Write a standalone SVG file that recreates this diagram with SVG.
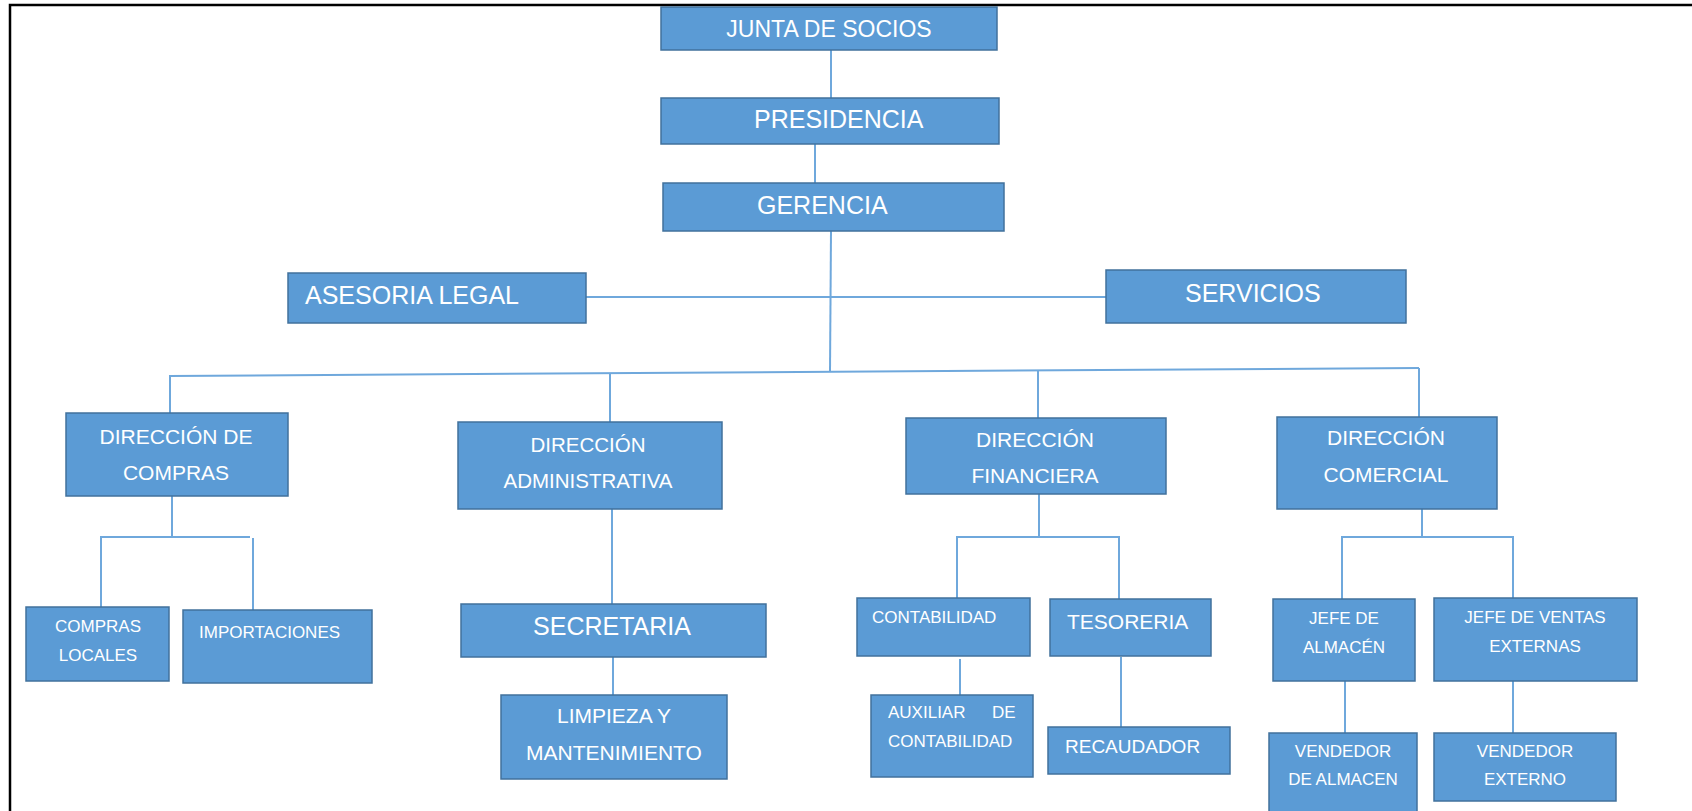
<svg xmlns="http://www.w3.org/2000/svg" width="1692" height="811" viewBox="0 0 1692 811">
<style>
.box{fill:#5B9BD5;stroke:#41719C;stroke-width:1.5}
.t{fill:#ffffff;font-family:"Liberation Sans",Arial,sans-serif}
.c{text-anchor:middle}
.ln{stroke:#6FA8DC;stroke-width:2;fill:none}
</style>
<rect width="1692" height="811" fill="#ffffff"/>
<path d="M10,811 V5 H1692" fill="none" stroke="#000000" stroke-width="2.5"/>
<g id="connectors">
<line class="ln" x1="831" y1="50" x2="831" y2="98"/>
<line class="ln" x1="815" y1="144" x2="815" y2="183"/>
<line class="ln" x1="831" y1="231" x2="830" y2="372"/>
<line class="ln" x1="586" y1="297" x2="1106" y2="297"/>
<line class="ln" x1="169" y1="376" x2="1419" y2="368"/>
<line class="ln" x1="170" y1="376" x2="170" y2="413"/>
<line class="ln" x1="610" y1="373" x2="610" y2="422"/>
<line class="ln" x1="1038" y1="370" x2="1038" y2="418"/>
<line class="ln" x1="1419" y1="368" x2="1419" y2="417"/>
<line class="ln" x1="172" y1="496" x2="172" y2="537"/>
<path class="ln" d="M101,607 V537 H250"/>
<line class="ln" x1="253" y1="538" x2="253" y2="610"/>
<line class="ln" x1="612" y1="509" x2="612" y2="604"/>
<line class="ln" x1="613" y1="657" x2="613" y2="695"/>
<line class="ln" x1="1039" y1="494" x2="1039" y2="537"/>
<path class="ln" d="M957,598 V537 H1119 V599"/>
<line class="ln" x1="960" y1="659" x2="960" y2="695"/>
<line class="ln" x1="1121" y1="657" x2="1121" y2="727"/>
<line class="ln" x1="1422" y1="509" x2="1422" y2="537"/>
<path class="ln" d="M1342,599 V537 H1514"/>
<line class="ln" x1="1513" y1="538" x2="1513" y2="598"/>
<line class="ln" x1="1345" y1="681" x2="1345" y2="733"/>
<line class="ln" x1="1513" y1="681" x2="1513" y2="733"/>
</g>
<g id="junta"><rect class="box" x="661" y="7" width="336" height="43"/><text class="t c" x="829" y="37" font-size="23">JUNTA DE SOCIOS</text></g>
<g id="presidencia"><rect class="box" x="661" y="98" width="338" height="46"/><text class="t" x="754" y="128" font-size="25">PRESIDENCIA</text></g>
<g id="gerencia"><rect class="box" x="663" y="183" width="341" height="48"/><text class="t" x="757" y="214" font-size="25">GERENCIA</text></g>
<g id="asesoria"><rect class="box" x="288" y="273" width="298" height="50"/><text class="t" x="305" y="304" font-size="25">ASESORIA LEGAL</text></g>
<g id="servicios"><rect class="box" x="1106" y="270" width="300" height="53"/><text class="t" x="1185" y="302" font-size="25">SERVICIOS</text></g>
<g id="dir-compras"><rect class="box" x="66" y="413" width="222" height="83"/><text class="t c" x="176" y="444" font-size="21">DIRECCIÓN DE</text><text class="t c" x="176" y="480" font-size="21">COMPRAS</text></g>
<g id="dir-admin"><rect class="box" x="458" y="422" width="264" height="87"/><text class="t c" x="588" y="452" font-size="20.5">DIRECCIÓN</text><text class="t c" x="588" y="488" font-size="20.5">ADMINISTRATIVA</text></g>
<g id="dir-fin"><rect class="box" x="906" y="418" width="260" height="76"/><text class="t c" x="1035" y="447" font-size="21">DIRECCIÓN</text><text class="t c" x="1035" y="483" font-size="21">FINANCIERA</text></g>
<g id="dir-com"><rect class="box" x="1277" y="417" width="220" height="92"/><text class="t c" x="1386" y="445" font-size="21">DIRECCIÓN</text><text class="t c" x="1386" y="482" font-size="21">COMERCIAL</text></g>
<g id="compras-locales"><rect class="box" x="26" y="607" width="143" height="74"/><text class="t c" x="98" y="632" font-size="17">COMPRAS</text><text class="t c" x="98" y="661" font-size="17">LOCALES</text></g>
<g id="importaciones"><rect class="box" x="183" y="610" width="189" height="73"/><text class="t" x="199" y="638" font-size="17">IMPORTACIONES</text></g>
<g id="secretaria"><rect class="box" x="461" y="604" width="305" height="53"/><text class="t c" x="612" y="635" font-size="25">SECRETARIA</text></g>
<g id="limpieza"><rect class="box" x="501" y="695" width="226" height="84"/><text class="t c" x="614" y="723" font-size="21">LIMPIEZA Y</text><text class="t c" x="614" y="760" font-size="21">MANTENIMIENTO</text></g>
<g id="contabilidad"><rect class="box" x="857" y="598" width="173" height="58"/><text class="t" x="872" y="623" font-size="17">CONTABILIDAD</text></g>
<g id="tesoreria"><rect class="box" x="1050" y="599" width="161" height="57"/><text class="t" x="1067" y="629" font-size="21">TESORERIA</text></g>
<g id="auxiliar"><rect class="box" x="871" y="695" width="162" height="82"/><text class="t" y="718" font-size="17"><tspan x="888">AUXILIAR</tspan> <tspan x="992">DE</tspan></text><text class="t" x="888" y="747" font-size="17">CONTABILIDAD</text></g>
<g id="recaudador"><rect class="box" x="1048" y="727" width="182" height="47"/><text class="t" x="1065" y="753" font-size="19">RECAUDADOR</text></g>
<g id="jefe-almacen"><rect class="box" x="1273" y="599" width="142" height="82"/><text class="t c" x="1344" y="624" font-size="17">JEFE DE</text><text class="t c" x="1344" y="653" font-size="17">ALMACÉN</text></g>
<g id="jefe-ventas"><rect class="box" x="1434" y="598" width="203" height="83"/><text class="t c" x="1535" y="623" font-size="17">JEFE DE VENTAS</text><text class="t c" x="1535" y="652" font-size="17">EXTERNAS</text></g>
<g id="vendedor-almacen"><rect class="box" x="1269" y="733" width="148" height="82"/><text class="t c" x="1343" y="757" font-size="17">VENDEDOR</text><text class="t c" x="1343" y="785" font-size="17">DE ALMACEN</text></g>
<g id="vendedor-externo"><rect class="box" x="1434" y="733" width="182" height="68"/><text class="t c" x="1525" y="757" font-size="17">VENDEDOR</text><text class="t c" x="1525" y="785" font-size="17">EXTERNO</text></g>
</svg>
